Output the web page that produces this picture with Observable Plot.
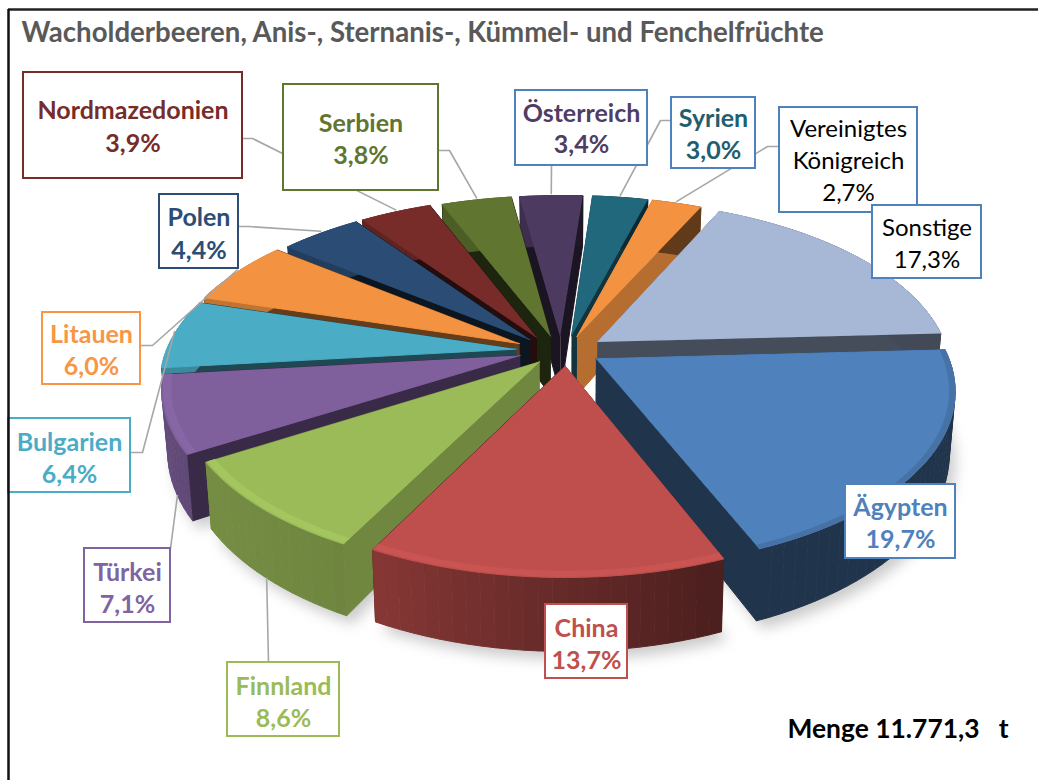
<!DOCTYPE html>
<html><head><meta charset="utf-8">
<style>html,body{margin:0;padding:0;background:#fff}svg{display:block}</style>
<script src="https://cdn.jsdelivr.net/npm/d3@7"></script>
<script src="https://cdn.jsdelivr.net/npm/@observablehq/plot@0.6"></script>
</head><body><div id="chart"></div>
<script>
// ---- data (clockwise from 3 o'clock) ----
const names = ["Ägypten","China","Finnland","Türkei","Bulgarien","Litauen","Polen","Nordmazedonien","Serbien","Österreich","Syrien","Vereinigtes Königreich","Sonstige"];
const shares = [19.7,13.7,8.6,7.1,6.4,6.0,4.4,3.9,3.8,3.4,3.0,2.7,17.3];
const shareLabels = ["19,7%","13,7%","8,6%","7,1%","6,4%","6,0%","4,4%","3,9%","3,8%","3,4%","3,0%","2,7%","17,3%"];
const title = "Wacholderbeeren, Anis-, Sternanis-, Kümmel- und Fenchelfrüchte";
const total = "Menge 11.771,3   t";

// ---- styles ----
const sliceColors = ["#4f81bd","#bf4f4c","#9bbb59","#7f609d","#4bacc6","#f39240","#2b4d75","#772c2a","#5f7530","#4d3a61","#21687c","#f39240","#a7b7d6"];
const radialShade = [0.40,0.42,0.72,0.45,0.42,0.42,0.28,0.3,0.32,0.35,0.5,0.75,0.42];
const labelInk = ["#4f81bd","#c0504d","#9bbb59","#8064a2","#4bacc6","#f79646","#2c4d75","#772c2a","#5f7530","#4f3d63","#215e6e","#000000","#000000"];
const boxEdge = ["#4f81bd","#c0504d","#9bbb59","#8064a2","#4bacc6","#f79646","#2c4d75","#772c2a","#5f7530","#4f81bd","#4f81bd","#4f81bd","#4f81bd"];

// ---- layout of the label boxes: [x1,x2,y1,y2], text rows, leader [start, elbow] ----
const boxes = [
 [845,955,484,558],[545,627,604,678],[227,339,662,736],[84,170,548,622],[8,130,418,492],
 [42,140,312,384],[159,238,194,268],[23,242,72,178],[283,438,84,190],[515,647,90,165],
 [671,755,97,168],[779,917,107,212],[872,981,205,278]];
const rows = [[507,539],[628,660],[686,718],[572,604],[442,474],[334,366],[217,250],[110,143],[123,155],[113,144],[118,150],[129,161,193],[228,260]];
const leaders = [null,null,
 {from:[268,662],wall:true,frac:.49},{from:[170,548],wall:true,frac:.3},
 {from:[130,452],elbow:[142,452]},{from:[140,345],elbow:[152,345]},
 {from:[238,226],elbow:[248,226]},{from:[242,138],elbow:[252,138]},
 {from:[438,150],elbow:[449,150]},{from:[551,165]},
 {from:[671,120],elbow:[660,120]},{from:[779,146],elbow:[767,146]},null];

// ---- pseudo-3D projection ----
const cx=566, cy=350, A=350, B=169, D=60, kx=.17, ky=.173, explode=.09, t0=-3, rad=Math.PI/180;
const explodeScale=[1.1,1,1.25,1.55,1.6,1.7,1.7,2,2,6,1,1,1.2];
const px=(u,v,z=0)=>{const X=A*u/(1-kx*v);return cx+X*(z?0.985:1);}, py=(v,z=0)=>cy+(B*v+z)/(1-ky*v);
let cum=0;
const slices = shares.map((s,i)=>{const a0=t0+cum*3.6; cum+=s; const a1=t0+cum*3.6, m=(a0+a1)/2, c=Math.cos(m*rad);
  return {i,a0,a1,m,ex:explode*c*explodeScale[i],ey:explode*Math.sin(m*rad)};});
const at=(s,t,r=1)=>[s.ex+r*Math.cos(t*rad),s.ey+r*Math.sin(t*rad)];
const shadeScale=d3.scaleLinear().domain([-90,0,70,120,180,270]).range([.4,.4,.4,.72,.8,.8]);
const mix=(c,f)=>{const q=d3.rgb(c);return d3.rgb(Math.min(255,q.r*f),Math.min(255,q.g*f),Math.min(255,q.b*f)).formatHex();};
const steps=(a,b,n)=>d3.range(n+1).map(j=>a+(b-a)*j/n);

let pid=0; const pts=[];
const poly=(list,color)=>{const id=pid++;list.forEach(p=>pts.push({id,x:p[0],y:p[1],color}));};
const paint=[...slices].sort((p,q)=>(p.ey+Math.sin(p.m*rad)*.4)-(q.ey+Math.sin(q.m*rad)*.4));
paint.forEach(s=>{
  const base=sliceColors[s.i];
  const wall=t=>{const [u,v]=at(s,t);return [[px(u,v),py(v)],[px(u,v,D),py(v,D)]];};
  const apex=[s.ex,s.ey];
  [s.a0,s.a1].forEach(t=>{const [u,v]=at(s,t);
    poly([[px(apex[0],apex[1]),py(apex[1])],[px(u,v),py(v)],[px(u,v,D),py(v,D)],[px(apex[0],apex[1],D),py(apex[1],D)]],mix(base,radialShade[s.i]));});
  const n=Math.max(4,Math.ceil((s.a1-s.a0)/2));
  const ts=steps(s.a0,s.a1,n);
  ts.slice(0,-1).forEach((t,j)=>{const w0=wall(t),w1=wall(ts[j+1]);const tn=((t+ts[j+1])/2);
    const tt=tn>270?tn-360:tn;
    poly([w0[0],w1[0],w1[1],w0[1]],mix(base,shadeScale(tt)));});
  const top=[[px(apex[0],apex[1]),py(apex[1])],...steps(s.a0,s.a1,n*2).map(t=>{const [u,v]=at(s,t);return [px(u,v),py(v)];})];
  poly(top,base);
  const rim=(r1,r2,f)=>{
    const a=steps(s.a0,s.a1,n*2).map(t=>{const [u,v]=at(s,t,r1);return [px(u,v),py(v)];});
    const b=steps(s.a0,s.a1,n*2).map(t=>{const [u,v]=at(s,t,r2);return [px(u,v),py(v)];}).reverse();
    poly([...a,...b],mix(base,f));};
  if(s.m>80&&s.m<170) rim(.995,.975,1.06);
  else if(s.m<80&&s.m>0) rim(1,.985,.88);
});
// soft shadow underneath
const shadow=[];
slices.filter(s=>s.m>-20&&s.m<200).forEach(s=>{
  const id=s.i, list=[[px(s.ex,s.ey,D),py(s.ey,D)],...steps(s.a0,s.a1,16).map(t=>{const [u,v]=at(s,t);return [px(u,v,D)+6,py(v,D)+8];})];
  list.forEach(p=>shadow.push({id,x:p[0],y:p[1]}));
});
// leaders end on the slice they belong to
const leaderPts=[];
leaders.forEach((l,i)=>{ if(!l) return; const s=slices[i], t=s.a0+(s.a1-s.a0)*(l.frac??.5), [u,v]=at(s,t);
  const end=[px(u,v,l.wall?D:0),py(v,l.wall?D:0)+(l.wall?0:-2)];
  [l.from,l.elbow,end].filter(Boolean).forEach(p=>leaderPts.push({id:i,x:p[0],y:p[1]}));
});
const boxData=boxes.map((b,i)=>({x1:b[0],x2:b[1],y1:b[2],y2:b[3],edge:boxEdge[i]}));
const textRows=[];
names.forEach((n,i)=>{const ls=i===11?["Vereinigtes","Königreich",shareLabels[i]]:[n,shareLabels[i]];
  ls.forEach((t,j)=>textRows.push({t,x:(boxes[i][0]+boxes[i][1])/2,y:rows[i][j],ink:labelInk[i],bold:i<11}));});

const chart=Plot.plot({width:1038,height:780,margin:0,
  x:{domain:[0,1038],range:[0,1038],axis:null},y:{domain:[0,780],range:[0,780],axis:null},
  style:{background:"#fff"},
  marks:[
    Plot.line(shadow,{x:"x",y:"y",z:"id",fill:"#8a8a8a",stroke:"none",fillOpacity:.45,imageFilter:"blur(7px)"}),
    Plot.line(pts,{x:"x",y:"y",z:"id",fill:"color",stroke:"color",strokeWidth:1,curve:"linear",imageFilter:"blur(0.7px)"}),
    Plot.line(leaderPts,{x:"x",y:"y",z:"id",stroke:"#a6a6a6",strokeWidth:1.6,curve:"linear"}),
    Plot.rect(boxData,{x1:"x1",x2:"x2",y1:"y1",y2:"y2",fill:"#fff",stroke:"edge",strokeWidth:2}),
    Plot.text(textRows.filter(d=>d.bold),{x:"x",y:"y",text:"t",fill:"ink",fontFamily:"Lato",fontWeight:700,fontSize:25,lineAnchor:"middle"}),
    Plot.text(textRows.filter(d=>!d.bold),{x:"x",y:"y",text:"t",fill:"ink",fontFamily:"Lato",fontWeight:400,fontSize:24,lineAnchor:"middle"}),
    Plot.text([title],{x:21,y:33,text:d=>d,textAnchor:"start",lineAnchor:"middle",fontFamily:"Lato",fontWeight:700,fontSize:27.6,fill:"#595959"}),
    Plot.text([total],{x:787,y:729,text:d=>d,textAnchor:"start",lineAnchor:"middle",fontFamily:"Lato",fontWeight:700,fontSize:26.4,fill:"#000"}),
    Plot.ruleY([9],{x1:8,x2:1038,stroke:"#222",strokeWidth:2.5}),
    Plot.ruleX([8],{y1:9,y2:780,stroke:"#111",strokeWidth:2.5})
  ]});
document.getElementById("chart").append(chart);
</script></body></html>
